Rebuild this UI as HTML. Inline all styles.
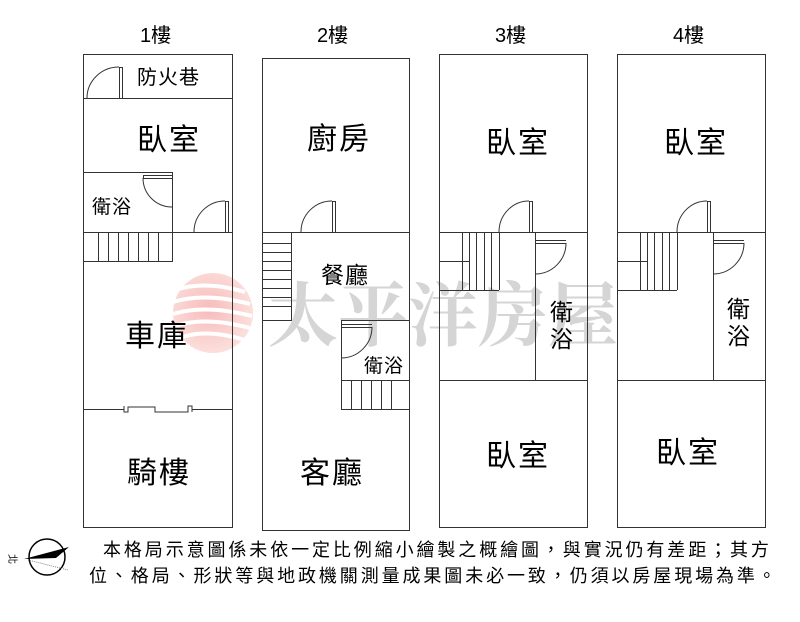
<!DOCTYPE html>
<html><head><meta charset="utf-8"><style>
body{margin:0;background:#fff;}
svg{display:block}
text{font-family:"Liberation Sans","Noto Sans CJK TC",sans-serif;fill:#000}
</style></head><body>
<svg width="800" height="622" viewBox="0 0 800 622" xmlns="http://www.w3.org/2000/svg">
<defs>
<radialGradient id="rg" cx="0.45" cy="0.45" r="0.6">
<stop offset="0" stop-color="#f4a0a0"/><stop offset="1" stop-color="#fbd6d0"/>
</radialGradient>
</defs>
<g opacity="0.7">
<circle cx="213" cy="313" r="40" fill="url(#rg)"/>
<g stroke="#fff" stroke-width="4" fill="none">
<path d="M175 290 Q205 280 245 292"/><path d="M173 302 Q205 292 250 304"/><path d="M173 314 Q205 304 252 316"/><path d="M175 326 Q205 316 250 328"/><path d="M180 338 Q205 328 245 340"/>
</g>
<text x="268" y="340" font-size="70" style="font-family:'Noto Serif CJK SC',serif;fill:#c4c4c4" font-weight="bold">太平洋房屋</text>
</g>
<g fill="none" stroke="#333" stroke-width="1">
<rect x="83.5" y="54.5" width="149" height="473"/>
<line x1="83" y1="98.5" x2="232" y2="98.5"/>
<line x1="119.5" y1="67" x2="119.5" y2="98"/><line x1="122.5" y1="67" x2="122.5" y2="98"/><line x1="119" y1="67.5" x2="123" y2="67.5"/>
<path d="M87 98 A32 31 0 0 1 119 67"/>
<rect x="83.5" y="172.5" width="89" height="89"/>
<line x1="143" y1="178.5" x2="172" y2="178.5"/><line x1="143" y1="175.5" x2="172" y2="175.5"/>
<line x1="143.5" y1="175" x2="143.5" y2="178"/>
<path d="M143 178 A29 29 0 0 0 172 207"/>
<line x1="83" y1="232.5" x2="232" y2="232.5"/>
<g><line x1="98.5" y1="232" x2="98.5" y2="262"/><line x1="108.5" y1="232" x2="108.5" y2="262"/><line x1="118.5" y1="232" x2="118.5" y2="262"/><line x1="128.5" y1="232" x2="128.5" y2="262"/><line x1="138.5" y1="232" x2="138.5" y2="262"/><line x1="148.5" y1="232" x2="148.5" y2="262"/><line x1="158.5" y1="232" x2="158.5" y2="262"/></g>
<line x1="225.5" y1="201" x2="225.5" y2="232"/><line x1="228.5" y1="201" x2="228.5" y2="232"/><line x1="225" y1="201.5" x2="229" y2="201.5"/>
<path d="M194 232 A31 31 0 0 1 225 201"/>
<line x1="83" y1="409.5" x2="124" y2="409.5"/><line x1="192" y1="409.5" x2="232" y2="409.5"/>
<path d="M124 406 V412 H128 V407 H155 V408"/>
<path d="M155 407 V412 H188 V406 H192 V412"/>
<rect x="262.5" y="58.5" width="147" height="472"/>
<line x1="262" y1="232.5" x2="409" y2="232.5"/>
<line x1="332.5" y1="201" x2="332.5" y2="232"/><line x1="335.5" y1="201" x2="335.5" y2="232"/><line x1="332" y1="201.5" x2="336" y2="201.5"/>
<path d="M301 232 A31 31 0 0 1 332 201"/>
<rect x="262.5" y="232.5" width="29" height="88"/>
<line x1="262" y1="243.5" x2="291" y2="243.5"/><line x1="262" y1="252.5" x2="291" y2="252.5"/><line x1="262" y1="261.5" x2="291" y2="261.5"/><line x1="262" y1="270.5" x2="291" y2="270.5"/><line x1="262" y1="279.5" x2="291" y2="279.5"/><line x1="262" y1="288.5" x2="291" y2="288.5"/><line x1="262" y1="297.5" x2="291" y2="297.5"/><line x1="262" y1="306.5" x2="291" y2="306.5"/>
<rect x="341.5" y="320.5" width="68" height="89"/>
<line x1="341" y1="380.5" x2="409" y2="380.5"/>
<line x1="341" y1="324.5" x2="372" y2="324.5"/><line x1="341" y1="327.5" x2="372" y2="327.5"/>
<path d="M372 327 A31 31 0 0 1 341 358"/>
<line x1="351.5" y1="380" x2="351.5" y2="409"/><line x1="361.5" y1="380" x2="361.5" y2="409"/><line x1="371.5" y1="380" x2="371.5" y2="409"/><line x1="381.5" y1="380" x2="381.5" y2="409"/><line x1="391.5" y1="380" x2="391.5" y2="409"/>
</g>
<g id="f3" fill="none" stroke="#333" stroke-width="1">
<rect x="439.5" y="54.5" width="148" height="473"/>
<line x1="439" y1="232.5" x2="587" y2="232.5"/>
<line x1="439" y1="380.5" x2="587" y2="380.5"/>
<line x1="535.5" y1="232" x2="535.5" y2="380"/>
<line x1="529.5" y1="201" x2="529.5" y2="232"/><line x1="532.5" y1="201" x2="532.5" y2="232"/><line x1="529" y1="201.5" x2="533" y2="201.5"/>
<path d="M499 232 A30 31 0 0 1 529 201"/>
<line x1="499.5" y1="232" x2="499.5" y2="290"/>
<line x1="439" y1="290.5" x2="499" y2="290.5"/>
<line x1="439" y1="261.5" x2="469" y2="261.5"/>
<line x1="462.5" y1="232" x2="462.5" y2="290"/><line x1="469.5" y1="232" x2="469.5" y2="290"/><line x1="476.5" y1="232" x2="476.5" y2="290"/><line x1="484.5" y1="232" x2="484.5" y2="290"/><line x1="491.5" y1="232" x2="491.5" y2="290"/>
<line x1="535" y1="240.5" x2="566" y2="240.5"/><line x1="535" y1="243.5" x2="566" y2="243.5"/>
<path d="M566 243 A31 31 0 0 1 535 274"/>
</g>
<use href="#f3" x="178"/>
<g font-size="20">
<text x="140" y="42">1樓</text><text x="317" y="42">2樓</text><text x="495" y="42">3樓</text><text x="673" y="42">4樓</text>
</g>
<g font-size="20">
<text x="137" y="84" letter-spacing="1">防火巷</text>
<text x="92" y="213" font-size="19" letter-spacing="1">衛浴</text>
<text x="364" y="372" font-size="19" letter-spacing="1">衛浴</text>
<text x="321" y="283" font-size="23" letter-spacing="1">餐廳</text>
</g>
<g font-size="30" letter-spacing="2">
<text x="137" y="150">臥室</text>
<text x="307" y="149">廚房</text>
<text x="486" y="153">臥室</text>
<text x="664" y="153">臥室</text>
<text x="125" y="346">車庫</text>
<text x="127" y="483">騎樓</text>
<text x="300" y="483">客廳</text>
<text x="486" y="466">臥室</text>
<text x="656" y="463">臥室</text>
</g>
<g font-size="23">
<text x="550" y="320">衛</text><text x="550" y="347">浴</text>
<text x="727" y="317">衛</text><text x="727" y="344">浴</text>
</g>
<g>
<circle cx="47" cy="557" r="18" fill="none" stroke="#000" stroke-width="1.5"/>
<path d="M24 559 L69 547 L56 558 Z" fill="#000"/>
<line x1="28" y1="560" x2="68" y2="570" stroke="#888" stroke-dasharray="1,1"/>
<text x="8" y="563" font-size="10" transform="rotate(90 13 559)">北</text>
</g>
<g font-size="18" letter-spacing="2.9">
<text x="103" y="556">本格局示意圖係未依一定比例縮小繪製之概繪圖，與實況仍有差距；其方</text>
<text x="89" y="582">位、格局、形狀等與地政機關測量成果圖未必一致，仍須以房屋現場為準。</text>
</g>
</svg>
</body></html>
